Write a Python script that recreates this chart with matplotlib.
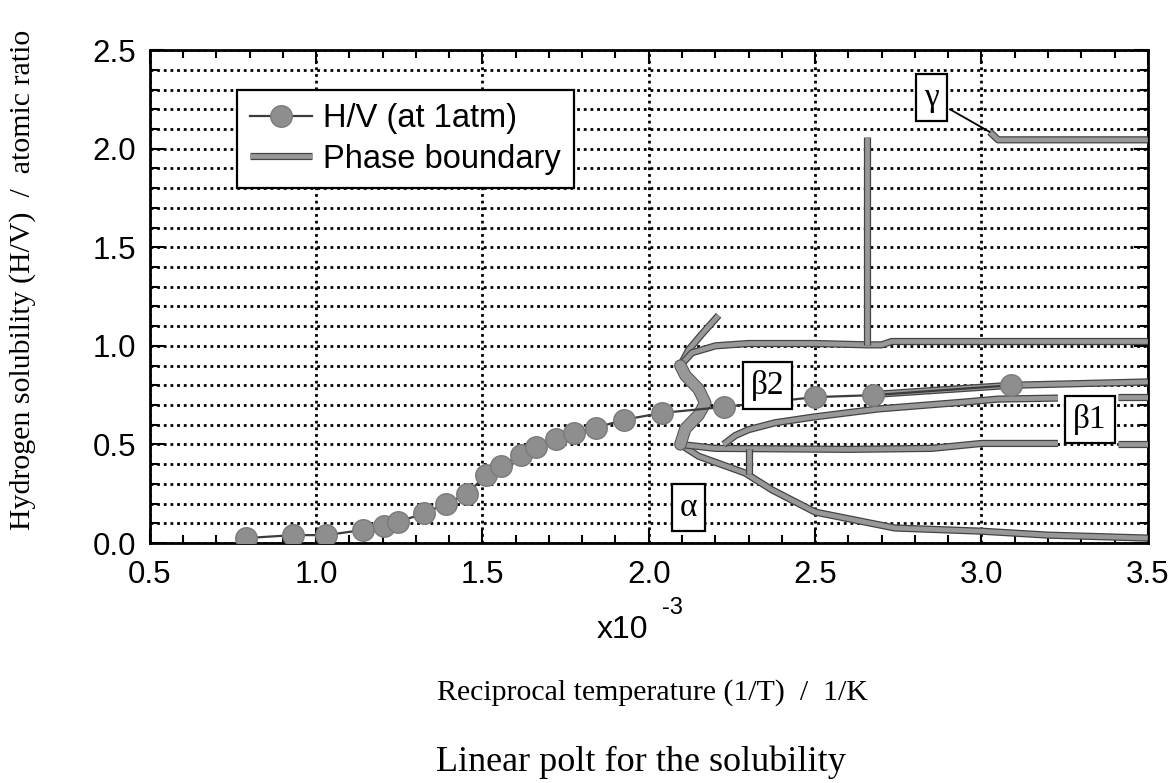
import matplotlib
matplotlib.use("Agg")
import matplotlib.pyplot as plt
import matplotlib.patheffects as pe
from matplotlib.ticker import MultipleLocator, FormatStrFormatter

# ---- H/V solubility at 1 atm (x in units of 1e-3 1/K) ----
hv_x = [0.79, 0.93, 1.03, 1.14, 1.205, 1.245, 1.325, 1.39, 1.455, 1.51, 1.555,
        1.615, 1.66, 1.72, 1.775, 1.84, 1.925, 2.04, 2.225, 2.50, 2.675, 3.09]
hv_y = [0.025, 0.04, 0.04, 0.066, 0.086, 0.107, 0.15, 0.20, 0.25, 0.345, 0.39,
        0.447, 0.487, 0.528, 0.558, 0.584, 0.625, 0.66, 0.69, 0.74, 0.75, 0.80]

# ---- phase boundaries ----
alpha_nose_x = [2.095, 2.11, 2.15, 2.17, 2.15, 2.11, 2.095]
alpha_nose_y = [0.50, 0.58, 0.65, 0.71, 0.78, 0.85, 0.90]

alpha_arm_x = [2.095, 2.12, 2.16, 2.21]
alpha_arm_y = [0.90, 0.98, 1.06, 1.155]

beta2_top_x = [2.095, 2.13, 2.20, 2.30, 2.50, 2.657, 2.70, 2.73, 3.50]
beta2_top_y = [0.90, 0.965, 1.00, 1.012, 1.012, 1.005, 1.005, 1.022, 1.022]

gamma_edge_x = [2.657, 2.657]
gamma_edge_y = [1.005, 2.06]

gamma_x = [3.025, 3.05, 3.50]
gamma_y = [2.085, 2.045, 2.045]

alpha_low_x = [2.095, 2.15, 2.29, 2.37, 2.50, 2.74, 3.00, 3.20, 3.50]
alpha_low_y = [0.50, 0.44, 0.355, 0.27, 0.157, 0.076, 0.06, 0.04, 0.025]

beta1_low_x = [2.095, 2.20, 2.60, 2.85, 3.00, 3.23]
beta1_low_y = [0.50, 0.48, 0.475, 0.48, 0.505, 0.505]
beta1_low_end_x = [3.41, 3.50]
beta1_low_end_y = [0.50, 0.50]

beta1_up_x = [2.225, 2.26, 2.30, 2.38, 2.50, 2.69, 2.95, 3.05, 3.23]
beta1_up_y = [0.50, 0.545, 0.575, 0.61, 0.64, 0.68, 0.715, 0.73, 0.735]
beta1_up_end_x = [3.41, 3.50]
beta1_up_end_y = [0.74, 0.74]

beta12_x = [2.69, 3.09, 3.50]
beta12_y = [0.755, 0.80, 0.817]

tie_x = [2.30, 2.30]
tie_y = [0.478, 0.35]

boundaries = [
    (alpha_arm_x, alpha_arm_y),
    (beta2_top_x, beta2_top_y), (gamma_edge_x, gamma_edge_y),
    (gamma_x, gamma_y), (alpha_low_x, alpha_low_y),
    (beta1_low_x, beta1_low_y), (beta1_low_end_x, beta1_low_end_y),
    (beta1_up_x, beta1_up_y), (beta1_up_end_x, beta1_up_end_y),
    (beta12_x, beta12_y), (tie_x, tie_y),
]

phase_names = ["\u03b1", "\u03b22", "\u03b21", "\u03b3"]
phase_pos = [(2.12, 0.18), (2.357, 0.80), (3.326, 0.625), (2.85, 2.26)]

x_ticks = [0.5, 1.0, 1.5, 2.0, 2.5, 3.0, 3.5]
y_ticks = [0.0, 0.5, 1.0, 1.5, 2.0, 2.5]

sans = ["Liberation Sans", "DejaVu Sans"]
serif = ["Liberation Serif", "DejaVu Serif"]

fig = plt.figure(figsize=(11.7, 7.83), dpi=100)
ax = fig.add_axes([0.128, 0.3065, 0.853, 0.6295])

ax.set_xlim(x_ticks[0], x_ticks[-1])
ax.set_ylim(y_ticks[0], y_ticks[-1])
ax.xaxis.set_major_locator(MultipleLocator(0.5))
ax.xaxis.set_minor_locator(MultipleLocator(0.1))
ax.yaxis.set_major_locator(MultipleLocator(0.5))
ax.yaxis.set_minor_locator(MultipleLocator(0.1))
ax.xaxis.set_major_formatter(FormatStrFormatter("%.1f"))
ax.yaxis.set_major_formatter(FormatStrFormatter("%.1f"))

dots = dict(color="black", linestyle=(0, (1, 1.4)), linewidth=2.0)
ax.yaxis.grid(True, which="both", **dots)
ax.xaxis.grid(True, which="major", **dots)
ax.set_axisbelow(True)

ax.tick_params(which="both", direction="in", top=True, right=True,
               width=1.5, colors="black")
ax.tick_params(which="major", length=10)
ax.tick_params(which="minor", length=6)
ax.tick_params(axis="x", pad=12)
ax.tick_params(axis="y", pad=10)
for lab in ax.get_xticklabels() + ax.get_yticklabels():
    lab.set_fontfamily(sans)
    lab.set_fontsize(22.5)
for sp in ax.spines.values():
    sp.set_linewidth(2.0)

# phase boundaries: grey band with a dark rim
core = "#989898"
rim = [pe.Stroke(linewidth=5.2, foreground="#444444"), pe.Normal()]
for i, (bx, by) in enumerate(boundaries):
    ax.plot(bx, by, color=core, linewidth=3.4, solid_capstyle="butt",
            solid_joinstyle="round", path_effects=rim, zorder=3,
            label="Phase boundary" if i == 0 else None)

# the alpha nose is drawn as a broad smeared band
ax.plot(alpha_nose_x, alpha_nose_y, color=core, linewidth=7.5,
        solid_capstyle="round", solid_joinstyle="round",
        path_effects=[pe.Stroke(linewidth=9, foreground="#555555"),
                      pe.Normal()], zorder=3)

# solubility data
ax.plot(hv_x, hv_y, color="#3c3c3c", linewidth=1.6, marker="o",
        markersize=15.5, markerfacecolor="#8e8e8e", markeredgecolor="#7a7a7a",
        markeredgewidth=1.0, zorder=4, label="H/V (at 1atm)")

# phase labels
box = dict(boxstyle="square,pad=0.24", facecolor="white", edgecolor="black",
           linewidth=1.6)
for name, (px, py) in zip(phase_names, phase_pos):
    ax.text(px, py, name, ha="center", va="center", fontsize=24,
            fontfamily=serif, bbox=box, zorder=6)

# leader from the gamma label to its boundary
ax.annotate("", xy=(gamma_x[0], gamma_y[0]), xytext=(2.905, 2.20),
            arrowprops=dict(arrowstyle="-", color="black", linewidth=1.3,
                            shrinkA=0, shrinkB=0), zorder=5)

handles, labels = ax.get_legend_handles_labels()
order = [labels.index("H/V (at 1atm)"), labels.index("Phase boundary")]
leg = ax.legend([handles[i] for i in order], [labels[i] for i in order],
                loc="upper left", bbox_to_anchor=(0.087, 0.919),
                borderaxespad=0, frameon=True, fancybox=False,
                prop=dict(family=sans, size=23.5), handlelength=1.9,
                handletextpad=0.35, labelspacing=0.3, borderpad=0.4,
                framealpha=1, edgecolor="black")
leg.get_frame().set_linewidth(1.6)
leg.set_zorder(10)

# axis texts
fig.text(0.532, 0.196, "x10", ha="center", va="center", fontsize=23,
         fontfamily=sans)
fig.text(0.5745, 0.2235, "-3", ha="center", va="center", fontsize=17,
         fontfamily=sans)
fig.text(0.558, 0.116, "Reciprocal temperature (1/T)  /  1/K", ha="center",
         va="center", fontsize=21.5, fontfamily=serif)
fig.text(0.548, 0.026, "Linear polt for the solubility", ha="center",
         va="center", fontsize=26, fontfamily=serif)
fig.text(0.019, 0.642, "Hydrogen solubility (H/V)  /  atomic ratio",
         ha="center", va="center", rotation=90, fontsize=21.5,
         fontfamily=serif)

fig.savefig("out.png", dpi=100)
